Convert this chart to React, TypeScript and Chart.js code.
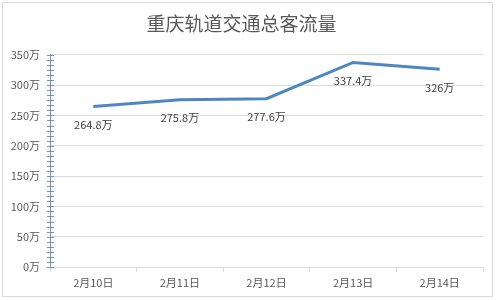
import React, { useEffect, useRef } from "react";
import { Chart, registerables } from "chart.js";

Chart.register(...registerables);

const TITLE = "重庆轨道交通总客流量";
const categories = ["2月10日", "2月11日", "2月12日", "2月13日", "2月14日"];
const values = [264.8, 275.8, 277.6, 337.4, 326];
const dataLabels = ["264.8万", "275.8万", "277.6万", "337.4万", "326万"];
const Y_MIN = 0;
const Y_MAX = 350;
const Y_STEP = 50;
const MINOR_PER_MAJOR = 6;
const UNIT = "万";

const FONT = '"Noto Sans CJK SC", "Noto Sans", sans-serif';
const AXIS_BLUE = "#7393b3";
const GRID = "#d9d9d9";
const TEXT = "#595959";

export default function App() {
  const ref = useRef<HTMLCanvasElement | null>(null);
  useEffect(() => {
    if (!ref.current) return;
    const framePlugin = {
      id: "frame",
      beforeDraw(chart: any) {
        const ctx = chart.ctx;
        ctx.save();
        ctx.fillStyle = "#ffffff";
        ctx.fillRect(0, 0, chart.width, chart.height);
        ctx.strokeStyle = GRID;
        ctx.lineWidth = 1;
        ctx.strokeRect(2.5, 2.5, 490, 294);
        ctx.restore();
      },
    };
    const minorTicks = {
      id: "minorTicks",
      afterDraw(chart: any) {
        const y = chart.scales.y;
        const ctx = chart.ctx;
        const x0 = chart.chartArea.left;
        ctx.save();
        ctx.strokeStyle = AXIS_BLUE;
        ctx.lineWidth = 1;
        const step = Y_STEP / MINOR_PER_MAJOR;
        const n = Math.round((Y_MAX - Y_MIN) / step);
        for (let k = 0; k <= n; k++) {
          const py = Math.round(y.getPixelForValue(Y_MIN + k * step)) + 0.5;
          ctx.beginPath();
          ctx.moveTo(x0 - 3, py);
          ctx.lineTo(x0 + 4, py);
          ctx.stroke();
        }
        ctx.restore();
      },
    };
    const labelsPlugin = {
      id: "pointLabels",
      afterDatasetsDraw(chart: any) {
        const meta = chart.getDatasetMeta(0);
        const ctx = chart.ctx;
        ctx.save();
        ctx.font = `11px ${FONT}`;
        ctx.fillStyle = "#404040";
        ctx.textAlign = "center";
        ctx.textBaseline = "middle";
        meta.data.forEach((pt: any, i: number) => {
          ctx.fillText(dataLabels[i], pt.x, pt.y + 18);
        });
        ctx.restore();
      },
    };
    const chart = new Chart(ref.current, {
      type: "line",
      data: {
        labels: categories,
        datasets: [
          {
            data: values,
            borderColor: "#4f86c2",
            borderWidth: 3,
            pointRadius: 0,
            tension: 0,
            fill: false,
          },
        ],
      },
      options: {
        animation: false,
        responsive: false,
        maintainAspectRatio: false,
        layout: { padding: { left: 0, right: 16, top: 0, bottom: 0 } },
        plugins: {
          legend: { display: false },
          tooltip: { enabled: false },
          title: {
            display: true,
            text: TITLE,
            color: TEXT,
            font: { family: FONT, size: 19, weight: "normal" },
            padding: { top: 12, bottom: 20 },
          },
        },
        scales: {
          x: {
            type: "category",
            offset: true,
            afterFit(scale: any) {
              scale.height = 33;
            },
            grid: {
              offset: true,
              drawOnChartArea: false,
              drawTicks: true,
              tickLength: 5,
              tickColor: GRID,
              color: GRID,
            },
            border: { color: GRID },
            ticks: {
              color: TEXT,
              font: { family: FONT, size: 11 },
              padding: 4,
              maxRotation: 0,
            },
          },
          y: {
            min: Y_MIN,
            max: Y_MAX,
            afterFit(scale: any) {
              scale.width = 50;
            },
            grid: { color: GRID, drawTicks: false },
            border: { color: AXIS_BLUE },
            ticks: {
              stepSize: Y_STEP,
              color: TEXT,
              padding: 10,
              font: { family: FONT, size: 11 },
              callback: (v: any) => `${v}${UNIT}`,
            },
          },
        },
      },
      plugins: [framePlugin, minorTicks, labelsPlugin],
    });
    return () => chart.destroy();
  }, []);
  return (
    <div style={{ position: "fixed", left: 0, top: 0, width: 499, height: 300 }}>
      <canvas ref={ref} width={499} height={300} style={{ display: "block" }} />
    </div>
  );
}
